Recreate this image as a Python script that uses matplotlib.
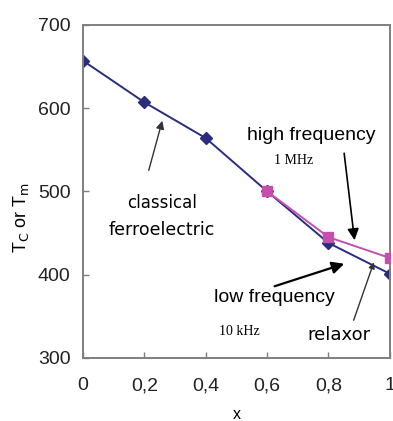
import matplotlib
matplotlib.use("Agg")
import matplotlib.pyplot as plt

# composition x and transition temperature
x_low = [0.0, 0.2, 0.4, 0.6, 0.8, 1.0]
t_low = [657, 607, 564, 500, 438, 401]      # low frequency (10 kHz) / Tc
x_high = [0.6, 0.8, 1.0]
t_high = [500, 445, 420]                    # high frequency (1 MHz)

x_ticks = [0, 0.2, 0.4, 0.6, 0.8, 1.0]
x_ticklabels = ["0", "0,2", "0,4", "0,6", "0,8", "1"]
y_ticks = [300, 400, 500, 600, 700]

BLUE = "#2a2c7e"
PINK = "#c64fae"
GREY = "#7f7f7f"

fig = plt.figure(figsize=(3.93, 4.21), dpi=100)
ax = fig.add_axes([0.211, 0.150, 0.781, 0.791])

ax.plot(x_high, t_high, color=PINK, lw=1.4, marker="s", ms=6.5,
        mfc=PINK, mec=PINK, zorder=3)
ax.plot(x_low, t_low, color=BLUE, lw=1.4, marker="D", ms=6,
        mfc=BLUE, mec=BLUE, zorder=2)

ax.set_xlim(0, 1)
ax.set_ylim(300, 700)
ax.set_xticks(x_ticks)
ax.set_xticklabels(x_ticklabels)
ax.set_yticks(y_ticks)
for s in ax.spines.values():
    s.set_color(GREY)
    s.set_linewidth(1.4)
ax.tick_params(direction="in", length=4, width=1, color=GREY,
               labelsize=14, labelcolor="#222222", pad=9)
ax.tick_params(axis="x", pad=14)
for lab in ax.get_xticklabels() + ax.get_yticklabels():
    lab.set_family("Liberation Sans")

ax.set_xlabel("x", family="Liberation Sans", fontsize=11.5, labelpad=9)
ax.set_ylabel(r"T$_\mathrm{C}$ or T$_\mathrm{m}$", family="Liberation Sans",
              fontsize=13)
ax.yaxis.set_label_coords(-0.17, 0.42)

# annotations
ax.text(0.257, 486, "classical", ha="center", va="center",
        fontsize=12, family="DejaVu Sans")
ax.text(0.257, 454, "ferroelectric", ha="center", va="center",
        fontsize=12.5, family="DejaVu Sans")
ax.annotate("", xy=(0.261, 588), xytext=(0.212, 522),
            arrowprops=dict(arrowstyle="-|>", color="#333333", lw=1,
                            mutation_scale=12))

ax.text(0.743, 567, "high frequency", ha="center", va="center",
        fontsize=14, family="Liberation Sans")
ax.text(0.687, 537, "1 MHz", ha="center", va="center",
        fontsize=10, family="Liberation Serif")
ax.annotate("", xy=(0.886, 438), xytext=(0.850, 549),
            arrowprops=dict(arrowstyle="-|>", color="black", lw=1.2,
                            mutation_scale=17))

ax.text(0.625, 372, "low frequency", ha="center", va="center",
        fontsize=14, family="Liberation Sans")
ax.text(0.511, 332, "10 kHz", ha="center", va="center",
        fontsize=10, family="Liberation Serif")
ax.annotate("", xy=(0.860, 414), xytext=(0.616, 385),
            arrowprops=dict(arrowstyle="-|>", color="black", lw=1.6,
                            mutation_scale=18))

ax.text(0.834, 328, "relaxor", ha="center", va="center",
        fontsize=13, family="DejaVu Sans")
ax.annotate("", xy=(0.951, 418), xytext=(0.879, 342),
            arrowprops=dict(arrowstyle="-|>", color="#333333", lw=1,
                            mutation_scale=9))

fig.savefig("out.png", dpi=100)
